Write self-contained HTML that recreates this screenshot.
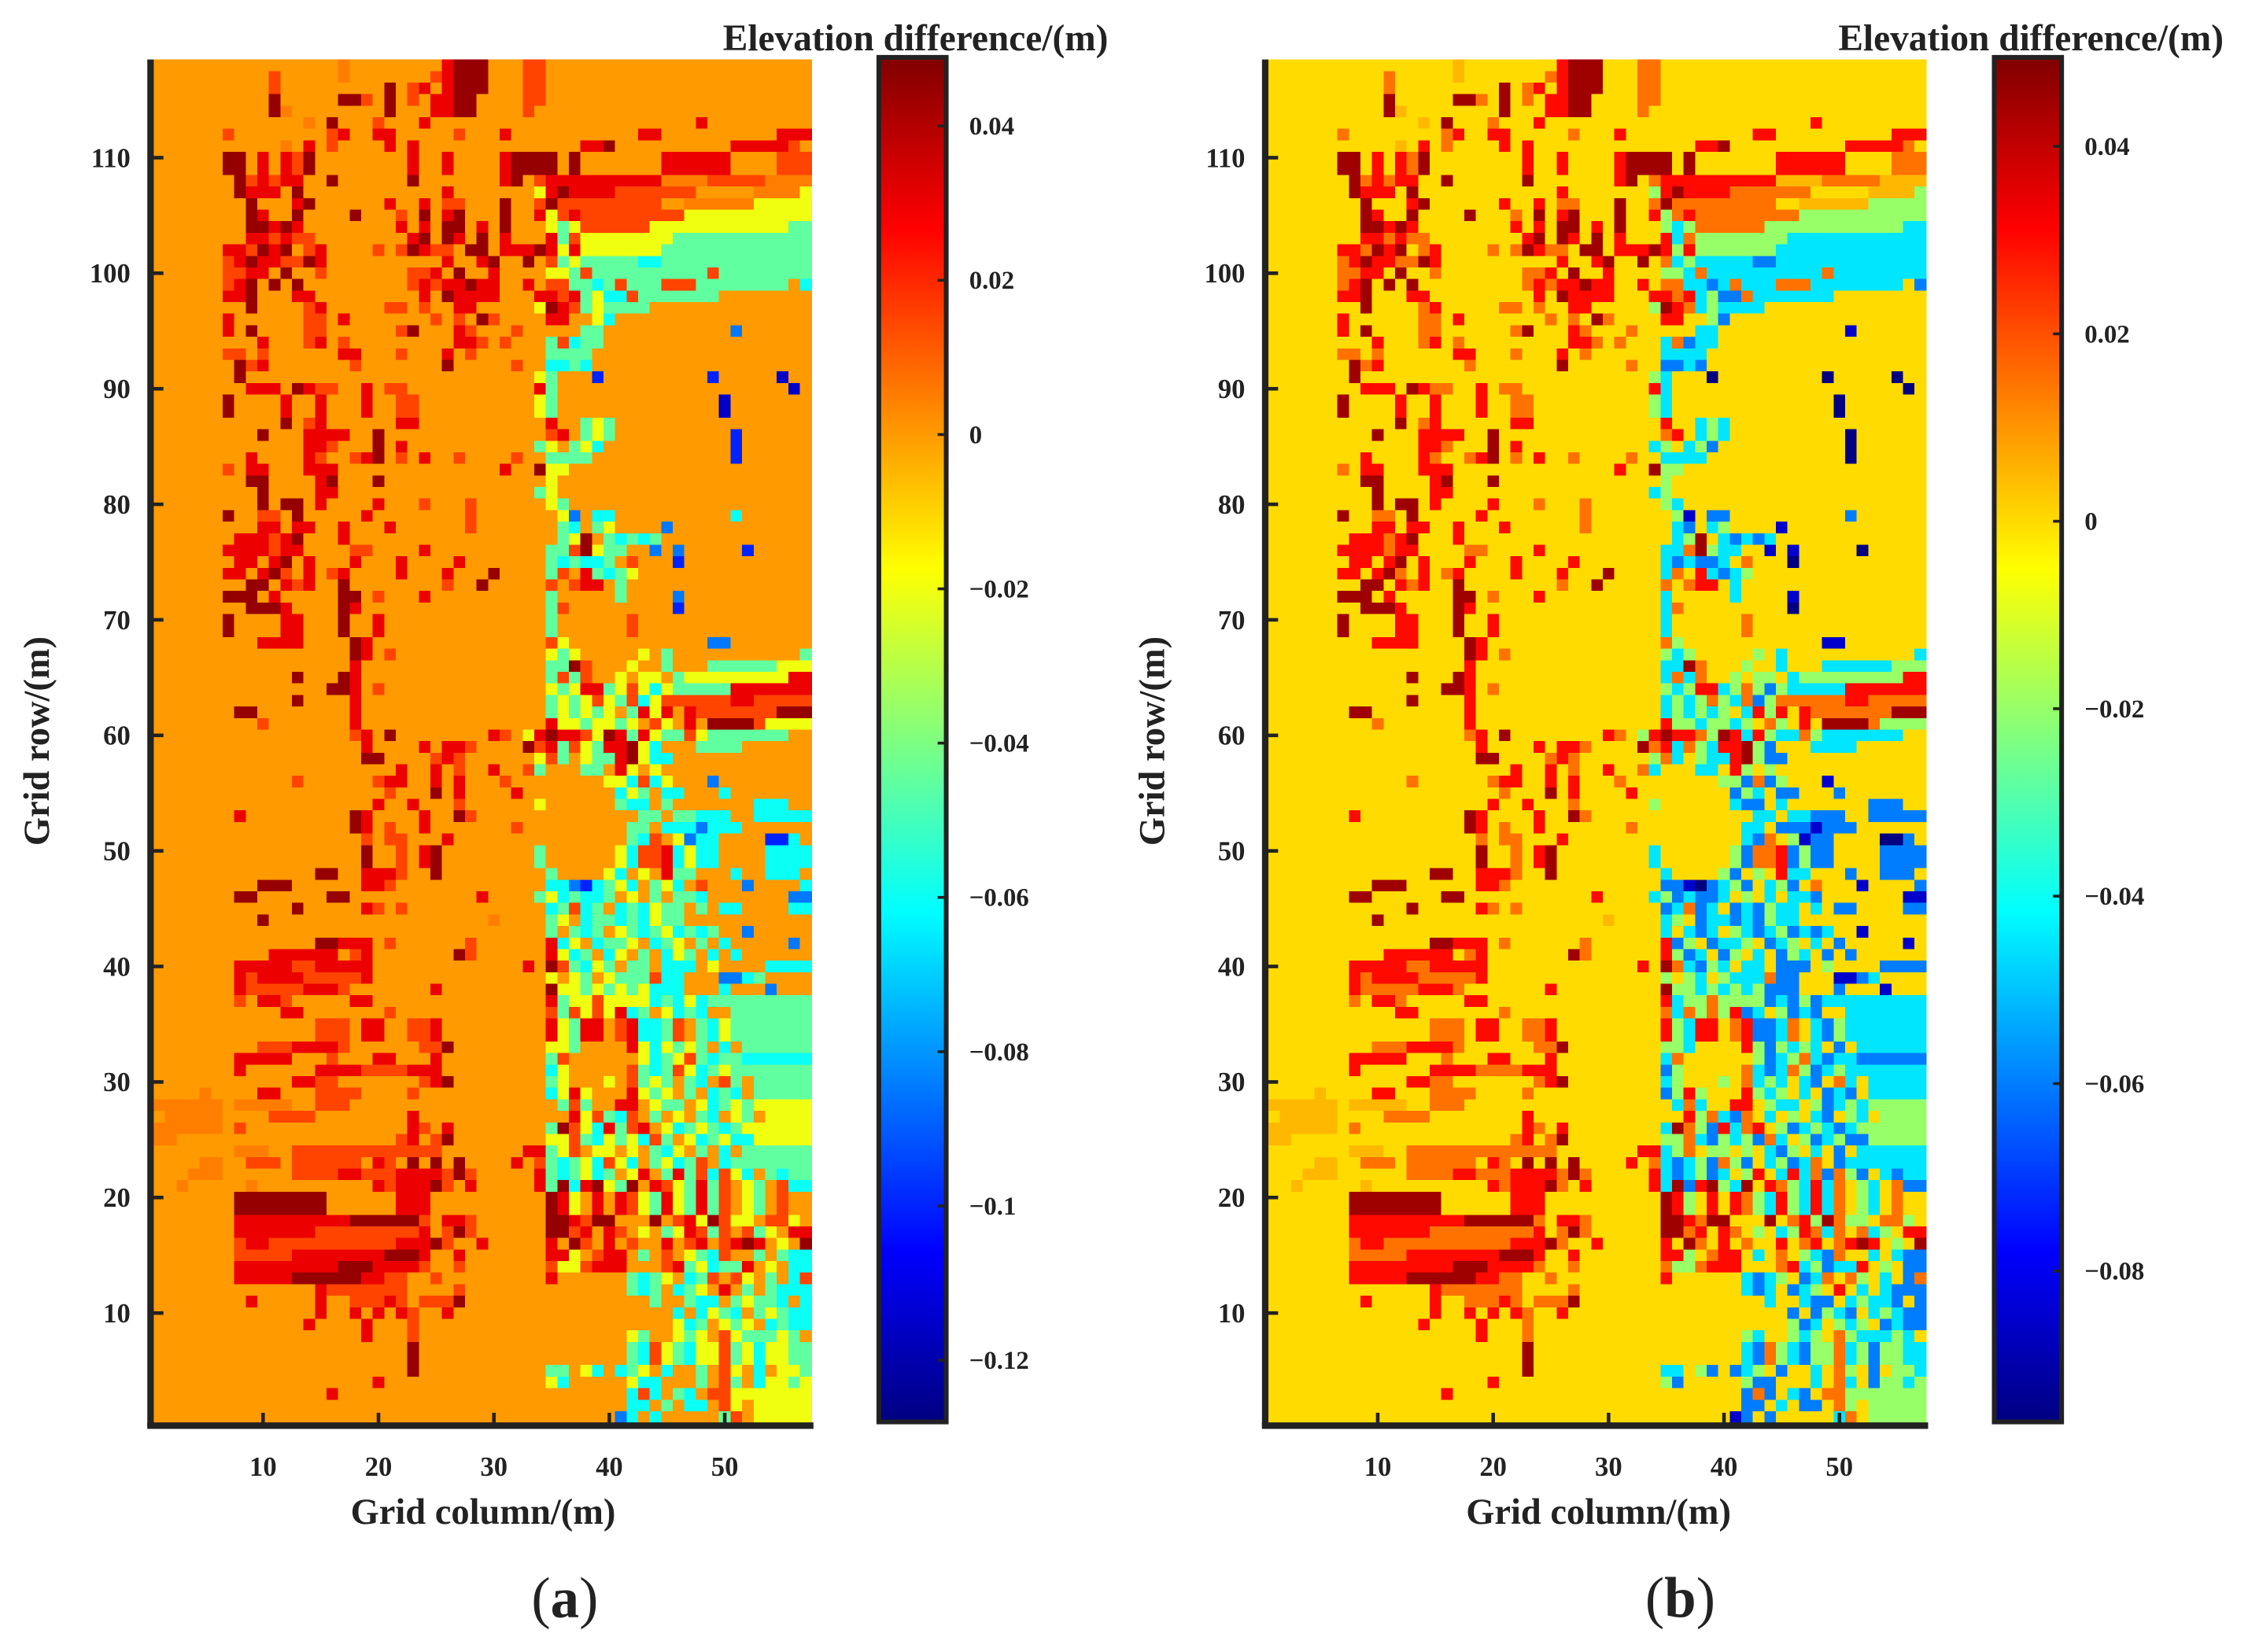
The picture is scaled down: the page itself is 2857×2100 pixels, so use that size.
<!DOCTYPE html>
<html><head><meta charset="utf-8"><style>
html,body{margin:0;padding:0;background:#fff;}
svg{display:block;}
text{font-family:"Liberation Serif",serif;fill:#222;}
.b{font-weight:bold;}
</style></head><body>
<svg id="fig" xmlns="http://www.w3.org/2000/svg" width="2857" height="2100" viewBox="0 0 1568 1152.5" preserveAspectRatio="none">
<defs>
<linearGradient id="gradA" x1="0" y1="1" x2="0" y2="0"></linearGradient>
<linearGradient id="gradB" x1="0" y1="1" x2="0" y2="0"></linearGradient>
</defs>
<g id="panelA"></g>
<g id="panelB"></g>
<text class="b" x="337" y="1063" font-size="25.5" text-anchor="middle">Grid column/(m)</text>
<text class="b" x="1115" y="1063" font-size="25.5" text-anchor="middle">Grid column/(m)</text>
<text class="b" x="0" y="0" font-size="25.5" text-anchor="middle" transform="translate(34,517) rotate(-90)">Grid row/(m)</text>
<text class="b" x="0" y="0" font-size="25.5" text-anchor="middle" transform="translate(812,517) rotate(-90)">Grid row/(m)</text>
<text class="b" x="773" y="35" font-size="26" text-anchor="end">Elevation difference/(m)</text>
<text class="b" x="1551" y="35" font-size="26" text-anchor="end">Elevation difference/(m)</text>
<text x="394" y="1128" font-size="40" text-anchor="middle">(<tspan font-weight="bold">a</tspan>)</text>
<text x="1172" y="1128" font-size="40" text-anchor="middle">(<tspan font-weight="bold">b</tspan>)</text>
</svg>
<script>
// ---- chart data ----
const nCols = 57;
const nRows = 118;
const xTicks = [10, 20, 30, 40, 50];
const yTicks = [10, 20, 30, 40, 50, 60, 70, 80, 90, 100, 110];
const cbTicksA = [0.04, 0.02, 0, -0.02, -0.04, -0.06, -0.08, -0.1, -0.12];
const cbTicksB = [0.04, 0.02, 0, -0.02, -0.04, -0.06, -0.08];
const climA = [-0.128, 0.0489];
const climB = [-0.0961, 0.0495];
const codeLetters = ['f', 'o', 'r', 'd', 'y', 'g', 'c', 'l', 'b', 'n'];
const codeValues = [0.005, 0.015, 0.03, 0.045, -0.02, -0.045, -0.06, -0.085, -0.1, -0.115];
// one entry per grid row, from row 118 (top) down to row 1; unlisted cells are 0
const gridRows = [
"17f 26r 27-29d 33-34o",
"11o 17f 25o 26r 27-29d 33-34o",
"11o 21d 23o 24r 26r 27-29d 33-34o",
"11d 17-18d 19o 21d 23o 25-26r 27-28d 33-34o",
"11d 12f 21d 25-26r 27-28d 33o",
"14f 16d 20o 24r 48r",
"7o 16o 17r 20-21r 27o 31r 43-44r 55-57r",
"12f 14r 16o 21r 23r 38-39r 40d 51-55r 56o",
"7-8d 10r 12r 13o 14d 23r 26r 31r 32d 33-35d 37d 45-50r 55-57o",
"7-8d 10r 12r 13o 14d 23r 26r 31r 32d 33-35d 37d 45-50r 55-57o",
"8d 9o 10r 11o 12-13r 16d 23d 31r 32d 34o 35r 36-44r 45-48f 49-53o 54-57f",
"8d 9-11r 13d 26r 34y 35r 36d 37-40r 41-44o 45-47o 53-56f 57y",
"9d 13r 14d 21r 24r 26-27o 31d 34o 35d 36-37o 38-40o 41-44o 47-52f 53-57y",
"9d 10r 13d 18d 22o 24d 26r 27d 31d 34r 35y 36o 37r 38-46o 47-57y",
"9-10d 11r 12d 13r 22r 24r 26-27d 29r 31d 35y 36g 37y 38-43o 44-50y 51-55y 56-57g",
"9-10r 11o 12r 13o 14o 23r 24d 26d 27r 29d 31r 35r 36g 37o 38-45y 46-57g",
"7-8r 9o 10d 11r 12d 14o 15r 20o 22o 23d 24r 25o 26o 28-29d 31-33r 34d 35r 36y 37r 38-44y 45-57g",
"7o 8r 9d 10-11r 12-13o 14d 15r 26r 29r 30d 33d 35o 36g 37y 38-42g 43-44c 45-57g",
"7-8o 9-10r 12d 15o 23-24o 25r 27d 30r 35y 36y 37g 38o 39-48g 49o 50-57g",
"7o 8r 9d 11d 13d 23o 24r 25o 26-27r 28d 29-30r 33r 35-36o 37-38g 39c 40g 41o 42-44g 45-47o 48-55g 57c",
"7-8r 9d 13-14r 24r 26d 27-30r 34-35r 36o 37r 38g 39y 40-41c 42o 43-49g",
"9d 14o 15r 21-22o 24o 27-28r 34y 35d 36r 37o 38g 39y 40-43g",
"7r 14-15o 17r 25o 27o 29d 30o 35-36r 39y 40c",
"7r 9d 14-15o 22o 23d 27r 28o 32o 38-39g 51l",
"10r 14o 15r 17o 27-28r 29o 31o 35g 36o 37c 38-39g",
"7-8o 10o 17-18r 22o 26r 28o 35-38g",
"8d 9o 10r 18o 26d 32o 35-36c 37g 38c",
"8d 34y 35g 39b 49b 55n",
"9-11r 13d 14r 15-16o 19r 21-22o 34r 35g 56n",
"7d 12r 15r 19r 22-23o 34y 35g 50n",
"7d 12r 15r 19r 22-23o 34y 35g 50n",
"12d 14o 15r 22-23r 35r 38g 39y 40g",
"10d 14-17r 20d 35o 36r 38g 39y 40g 51b",
"14-15r 16o 20d 22r 34g 35y 37g 38y 39c 51b",
"9r 14r 15o 18o 19r 20d 22o 24r 27o 32o 35-38g 51b",
"7o 9-10r 14-16r 31r 34d 35-36y",
"9-10d 15r 16d 20d 35y",
"10d 15-16r 34g 35y",
"10d 12-13d 15r 20r 24o 28o 35y 36g",
"7d 10-11o 13d 19r 28o 36y 37l 39-40c 51c",
"10-11r 13-14r 17r 21r 28o 36g 37c 39g 40y 45l",
"8-10r 11o 12r 13d 17r 36g 37y 38d 40g 41c 42g 43c 44g",
"7-10r 11o 12-13r 18-19o 24r 35-36g 37o 38d 39y 40-41g 44l 46l 52b",
"8-9r 11r 12d 14r 18r 22r 27r 35g 36c 37g 38-39c 40g 42o 46b",
"7-8r 10r 11d 12o 14r 16o 17r 22r 26r 30d 35g 36o 38r 39g 40c 41g 42y",
"9-10d 12r 13o 14r 17d 26o 29d 35o 37o 38-39r 41g",
"7-9d 11r 17-18d 20o 24r 35g 41g 46l",
"9-11d 12r 17d 18r 35g 36o 46b",
"7d 12-13r 17d 20r 35g 42o",
"7d 12-13r 17d 20r 35g 42o",
"10-13r 18d 19r 35o 36y 49-50l",
"18d 19r 21o 35y 36g 37y 43y 45g 57g",
"18r 35-36g 37d 38o 42y 45g 49-54g 55-57y",
"13d 17d 18r 35g 36o 37g 38o 41y 43-44y 46g 47-55y 56-57r",
"16-17d 18r 20o 35y 36g 37y 38-39r 40g 41y 42o 43y 44c 45y 46-50g 51-57r",
"13d 18r 35g 36y 37g 38y 39o 40y 41g 42o 43c 44y 45o 46-50o 51-52r 53-57o",
"8-9d 18r 35g 36y 37g 38y 39g 40y 42g 43r 44y 45r 47r 48o 49-54o 55-57d",
"10o 18r 35r 36-37y 38g 39-40y 41g 42y 44o 45y 47r 49-52d 53o 54-57y",
"18o 19r 21d 30r 31o 33y 34r 35d 36-37r 38o 39y 40d 41r 42g 43r 44y 45-46g 47o 48y 49-55g",
"19r 24r 26-27r 28o 33d 34o 35r 36g 37o 38y 39g 40-41r 42d 43y 44c 48g 49-51g",
"19-20d 25o 26r 27o 34y 35o 36g 38y 39-40g 41r 42d 43y 44-45c",
"22r 25r 27o 30r 33o 34g 38-39g 41r 42y 44y",
"13o 20o 21-22r 25r 27r 31o 40-41y 42c 43o 44c 45y 49l",
"21o 25d 27r 32r 41c 42y 43g 45-46c 50c",
"20r 23r 27o 34y 41g 42-43c 45g 53-55c",
"8r 18d 19r 24r 27d 28o 43-44g 46-47g 48-50c 53-57c",
"18d 19r 21o 24r 32o 42-43g 45-47c 48l 49-51c",
"19o 21-22o 26r 42g 43c 44o 46y 47l 48-49c 54-55b 56c",
"19d 22o 24r 25d 34g 41y 42c 43-44o 45r 46c 47y 48-49c 54-57c",
"19d 22o 24r 25d 34g 41y 42c 43-44o 45r 46c 47y 48-49c 54-57c",
"15-16d 19-21r 22o 25d 35g 40y 41c 43y 45r 46-47g 51c 54-56c",
"10-12d 19-20r 21o 35-36c 37l 38b 39c 40g 41y 42c 44g 45y 46c 48o 52l 57c",
"8-9d 16-17d 29r 34g 35y 36c 37g 38-39c 40g 42y 44g 46-47g 48c 56-57l",
"13d 19r 20o 22o 35c 36g 37o 38c 39g 41c 42g 43c 44y 45-46g 48g 50-51c 56-57c",
"10d 30f 35g 36y 38c 39-40g 41c 42g 43c 44y 45-46g",
"35g 37g 38c 39g 41y 42g 43c 44g 45y 46c 47g 48c 49g 52l",
"15-16d 17-19r 21o 28o 35r 36c 37y 39c 40-41g 42y 44c 45g 46y 48g 50c 56l",
"11-16r 18o 19r 27d 28o 35r 36y 37c 38g 40c 41y 43g 45c 46y 47g 49c 51c",
"8-12r 13-14o 15-19r 33r 35d 36o 37g 38c 39y 40g 42-43g 45-47c 49y 54-57c",
"8r 9o 10-13r 14-18o 19r 35y 37y 38g 40y 41-43g 44o 45-46c 50-51l 52c 53g",
"8r 9-13o 14-16r 17o 25r 35d 36-37y 38g 39y 40g 41y 42g 43y 44-46c 50c 54l",
"8o 10-11r 12o 18-19r 35r 36g 37-38y 39o 40-43y 44c 45g 46c 47y 48c 49-57g",
"12-13r 21o 35o 36g 37o 38y 39o 40y 41r 42c 43g 45y 46c 47g 48c 51-57g",
"15-17o 19-20r 23-24o 25r 35r 36y 37g 38-39r 41o 42r 43-44c 45g 46o 48g 49c 50y 51-57g",
"15-17o 19-20r 23-24o 25r 35r 36y 37g 38-39r 41o 42r 43-44c 45g 46o 48g 49c 50y 51-57g",
"10-12o 13-16r 17o 24-25o 26d 35-36y 37g 42r 43y 44c 45y 46g 47y 48g 50c 52-57g",
"8-12r 16o 20-21r 25r 35g 36o 43y 44c 45g 46y 47o 48g 49c 50-51g 52-57c",
"8r 15-18r 19-22o 23-25r 35c 36y 42o 43g 44c 45g 46o 47y 48c 49g 50y 51-57g",
"13-14r 15-16o 24o 25r 26d 35g 36y 40y 42o 43g 44y 45g 47g 48c 50o 51g 53-57g",
"5f 10-11r 15-18o 23o 35c 36y 37r 38y 42r 43y 44g 45y 47g 49c 50g 51c 53-57g",
"1-6f 8-12f 15-17o 36g 37o 38g 41-42r 44y 45-46g 48y 49c 50g 51y 52g 53-57y",
"2-6f 11-14o 23r 37r 38y 39o 40g 41c 42o 44g 46y 48g 49c 51y 52g 54-57y",
"1-6f 8o 23r 24o 26r 35g 36d 37o 38y 39c 40r 41g 42o 43r 45y 46c 47g 48y 49g 50c 51g 52-57y",
"1-2f 22o 23r 25o 26d 35-36y 37o 38g 39c 40y 41g 42y 43c 44o 45g 47y 48c 49g 50y 51-52c 53-57y",
"8-10f 13-25o 33-34r 35g 36y 37o 39-40y 42y 44g 45c 46y 48g 50c 52-57g",
"5-6f 9-11o 13-18o 20r 21o 23d 25d 27d 32r 34o 35g 36c 37g 38y 39c 40o 41y 42c 44g 45y 46c 47g 48o 50c 51-57g",
"4-6f 13-16o 17-18r 19-21o 22-25r 26o 27d 28o 34r 35g 36c 37g 38y 39c 40g 42y 43r 45g 46r 47g 48o 49c 50o 51y 52c 54g 55c 56-57g",
"3f 9f 20r 21o 22-24r 25d 26o 28r 34r 35g 36d 37c 38r 39d 40y 41g 42d 44r 45o 46y 47g 48r 49g 50o 52y 53g 55o 56-57c",
"8-15d 22-24r 35d 36r 37y 39r 41r 42o 43y 44g 45r 46y 47g 48r 49g 50o 52y 53g 55o",
"8-15d 22-24r 35d 36r 37y 39r 41r 42o 43y 44g 45r 46y 47g 48r 49g 50o 52y 53g 55o",
"8-17r 18-23d 24o 26-27r 28o 35-36d 37r 38o 39-40d 44d 46o 47r 48y 49d 50o 51-52y 54-55o 56y",
"8-14r 15-23o 24r 26o 27d 28o 35-36d 37o 38r 40r 41o 43y 45g 46y 47r 48o 49g 50o 52o 53g 54y 56-57r",
"8o 9-10r 11-21o 22-24r 25d 26o 29r 35r 37d 38o 40r 42o 45r 47o 48r 50o 51r 52d 53r 55y 57d",
"8-12o 13-20r 21-23d 24r 27r 35-36r 37y 39o 40-41r 43g 45o 47y 48g 49c 50o 53g 55g 56-57c",
"8-16r 17-19d 20-23r 24o 27o 35o 36-37y 38o 39-41r 45o 46r 47g 48y 49c 50-51g 52r 54y 56-57c",
"8-12r 13-18d 19-20r 21-22o 25o 35r 42g 43c 44g 45y 47c 48g 49o 51o 52y 54g 56c 57o",
"15r 16-22o 27o 42g 43c 44g 46c 47g 48y 50r 52g 54g 55-57c",
"9r 15r 18-20o 21r 22o 24-26o 27d 44g 47g 48-49c 51g 52y 53-54g 55c 57c",
"15r 18r 20r 22r 23o 26r 46c 48c 49y 50g 51c 53g 54y 55g 56-57c",
"14r 19r 23o 46y 47c 48g 50y 51g 52y 54c 55g 56-57c",
"19r 23o 42y 43g 46y 47g 48y 50o 51y 52-54g 55y 56g",
"23d 42g 43c 44o 45y 46g 47c 48-49y 50o 51g 52y 53c 54-55y 56-57g",
"23d 42g 43c 44o 45y 46g 47c 48-49y 50o 51g 52y 53c 54-55y 56-57g",
"23d 35-36g 38y 39c 41c 42g 43y 45c 48g 50o 51y 53c 55-56y 57g",
"20r 35y 36c 42y 43-44c 48g 50o 51g 53c 54-55y 56g 57y",
"16r 42c 43o 44c 46g 47c 49-50o 51-52y 53-57y",
"42-43c 45g 47-48c 50o 51y 53-57y",
"41l 42c 44c 50g 51o 53-57y"
];

// ---- drawing ----
const NS = 'http://www.w3.org/2000/svg';
function mk(tag, attrs, parent) {
  const el = document.createElementNS(NS, tag);
  for (const k in attrs) el.setAttribute(k, attrs[k]);
  parent.appendChild(el);
  return el;
}
function jet(t) {
  t = Math.max(0, Math.min(1, t));
  const r = Math.max(0, Math.min(1, Math.min(4 * t - 1.5, -4 * t + 4.5)));
  const g = Math.max(0, Math.min(1, Math.min(4 * t - 0.5, -4 * t + 3.5)));
  const b = Math.max(0, Math.min(1, Math.min(4 * t + 0.5, -4 * t + 2.5)));
  return 'rgb(' + Math.round(r * 255) + ',' + Math.round(g * 255) + ',' + Math.round(b * 255) + ')';
}
function parseGrid() {
  const grid = [];
  for (let i = 0; i < gridRows.length; i++) {
    const row = new Array(nCols).fill(0);
    const toks = gridRows[i].trim().split(/\s+/);
    for (const tk of toks) {
      if (!tk) continue;
      const code = tk.slice(-1);
      const rng = tk.slice(0, -1).split('-');
      const a = parseInt(rng[0]), b = rng.length > 1 ? parseInt(rng[1]) : a;
      const v = codeValues[codeLetters.indexOf(code)];
      for (let c = a; c <= b; c++) row[c - 1] = v;
    }
    grid.push({ row: nRows - i, vals: row });
  }
  return grid;
}
const grid = parseGrid();

function drawPanel(gId, cfg) {
  const g = document.getElementById(gId);
  const x0 = cfg.x0, x1 = cfg.x1, yTop = 41.5, yBot = 992.6;
  const cw = (x1 - x0) / nCols, rh = (yBot - yTop) / nRows;
  const xs = c => x0 + (c - 0.5) * cw;
  const ys = r => yBot - (r - 0.5) * rh;
  const cells = mk('g', { 'shape-rendering': 'crispEdges' }, g);
  
  
  for (const rw of grid) {
    for (let c = 1; c <= nCols; c++) {
      const v = rw.vals[c - 1];
      const t = (v - cfg.clim[0]) / (cfg.clim[1] - cfg.clim[0]);
      const rect = mk('rect', { x: xs(c - 0.5).toFixed(2), y: ys(rw.row + 0.5).toFixed(2), width: (cw + 0.4).toFixed(2), height: (rh + 0.4).toFixed(2), fill: jet(t) }, cells);
      
      
    }
  }
  const axL = mk('line', { x1: x0 - 2, y1: yTop, x2: x0 - 2, y2: yBot + 2.3, stroke: '#222', 'stroke-width': 4.5 }, g);
  
  
  const axB = mk('line', { x1: x0 - 4.3, y1: yBot + 2, x2: x1 + 1.5, y2: yBot + 2, stroke: '#222', 'stroke-width': 4.5 }, g);
  
  
  for (const r of yTicks) {
    const tk = mk('line', { x1: x0, y1: ys(r), x2: x0 + 7, y2: ys(r), stroke: '#222', 'stroke-width': 2.5 }, g);
    
    
    const tl = mk('text', { x: x0 - 16, y: ys(r) + 6.5, 'font-size': 19, 'text-anchor': 'end', 'font-weight': 'bold' }, g);
    tl.textContent = r;
    
    
  }
  for (const c of xTicks) {
    const tk = mk('line', { x1: xs(c), y1: yBot, x2: xs(c), y2: yBot - 7, stroke: '#222', 'stroke-width': 2.5 }, g);
    
    
    const tl = mk('text', { x: xs(c), y: yBot + 37, 'font-size': 19, 'text-anchor': 'middle', 'font-weight': 'bold' }, g);
    tl.textContent = c;
    
    
  }
  const grad = document.getElementById(cfg.grad);
  const stops = [0, 0.125, 0.375, 0.625, 0.875, 1];
  for (const s of stops) mk('stop', { offset: s, 'stop-color': jet(s) }, grad);
  const cbx0 = cfg.cbx, cbx1 = cfg.cbx + 47, cbTop = 40, cbBot = 992;
  const cbY = v => cbBot - (v - cfg.clim[0]) / (cfg.clim[1] - cfg.clim[0]) * (cbBot - cbTop);
  const cb = mk('rect', { x: cbx0, y: cbTop, width: cbx1 - cbx0, height: cbBot - cbTop, fill: 'url(#' + cfg.grad + ')', stroke: '#222', 'stroke-width': 3.3 }, g);
  
  
  for (const v of cfg.cbTicks) {
    const tk = mk('line', { x1: cbx1, y1: cbY(v), x2: cbx1 - 6, y2: cbY(v), stroke: '#222', 'stroke-width': 2 }, g);
    
    
    const tl = mk('text', { x: cbx1 + 16, y: cbY(v) + 6, 'font-size': 18, 'font-weight': 'bold' }, g);
    tl.textContent = (v < 0 ? '\u2212' : '') + Math.abs(v).toString();
    
    
  }
}
drawPanel('panelA', { x0: 107, x1: 565.9, clim: climA, cbx: 613, grad: 'gradA', cbTicks: cbTicksA });
drawPanel('panelB', { x0: 884.5, x1: 1343.4, clim: climB, cbx: 1391, grad: 'gradB', cbTicks: cbTicksB });
</script>
</body></html>
